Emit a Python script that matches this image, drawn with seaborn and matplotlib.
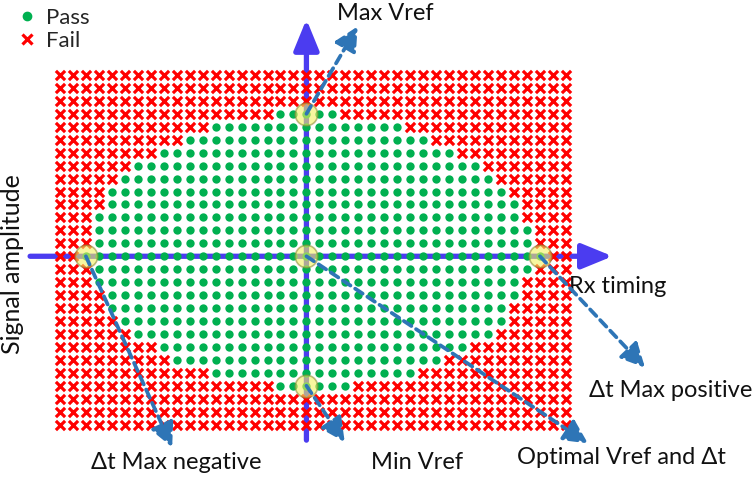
import numpy as np
import pandas as pd
import matplotlib
matplotlib.use("Agg")
import matplotlib.pyplot as plt
import seaborn as sns

# ---- data (grid of pass/fail results) ----
timing_steps = list(range(-19, 21))          # Rx timing offset (columns)
amplitude_steps = list(range(14, -14, -1))   # Vref / signal amplitude (rows, top to bottom)
# first and last passing timing step for each amplitude row (None = whole row fails)
pass_first = [None, None, None, -2, -7, -9, -11, -13, -14, -15, -15, -16, -16, -16,
              -17, -16, -16, -15, -15, -14, -13, -11, -10, -7, -2, None, None, None]
pass_last = [None, None, None, 2, 7, 9, 11, 13, 14, 15, 16, 16, 17, 17,
             18, 17, 16, 16, 15, 15, 14, 12, 10, 8, 3, None, None, None]

key_labels = ["Max Vref", "Δt Max negative", "Min Vref", "Optimal Vref and Δt", "Δt Max positive"]
key_timing = [0, -17, 0, 0, 18]
key_amplitude = [11, 0, -10, 0, 0]

# ---- build table ----
rows = []
for amp, a, b in zip(amplitude_steps, pass_first, pass_last):
    for t in timing_steps:
        ok = a is not None and a <= t <= b
        rows.append({"timing": t, "amplitude": amp, "status": "Pass" if ok else "Fail"})
df = pd.DataFrame(rows)

sns.set_theme(style="white")
plt.rcParams["font.family"] = ["Lato", "DejaVu Sans"]

GREEN = "#00B050"
RED = "#FF0000"
AXBLUE = "#4B3CF0"
DASHBLUE = "#2E75B6"

fig = plt.figure(figsize=(7.54, 5.01), dpi=100)
ax = fig.add_axes([0, 0, 1, 1])
ax.set_xlim(-23.62, 34.5)
ax.set_ylim(-18.9, 19.79)
ax.set_axis_off()

# main axes arrows (under the dots)
ax.annotate("", xy=(23.6, 0), xytext=(-21.3, 0),
            arrowprops=dict(arrowstyle="-|>,head_length=1.1,head_width=0.45", color=AXBLUE,
                            lw=3.8, mutation_scale=17, shrinkA=0, shrinkB=0), zorder=1)
ax.annotate("", xy=(0, 18.3), xytext=(0, -14.2),
            arrowprops=dict(arrowstyle="-|>,head_length=1.1,head_width=0.45", color=AXBLUE,
                            lw=3.8, mutation_scale=17, shrinkA=0, shrinkB=0), zorder=1)

sns.scatterplot(data=df[df.status == "Pass"], x="timing", y="amplitude", color=GREEN,
                marker="o", s=36, linewidth=0, ax=ax, zorder=3, legend=False)
sns.scatterplot(data=df[df.status == "Fail"], x="timing", y="amplitude", color=RED,
                marker="x", s=44, linewidth=2.3, ax=ax, zorder=3, legend=False)

# highlighted key points
sns.scatterplot(x=key_timing, y=key_amplitude, s=260, color="#F2F060", alpha=0.6,
                edgecolor="#8E8E3A", linewidth=1.2, ax=ax, zorder=4, legend=False)

# dashed callout arrows
tips = [(3.95, 17.75), (-10.35, -14.75), (2.95, -14.35), (21.7, -14.45), (26.1, -8.6)]
for (tx, ty), kx, ky in zip(tips, key_timing, key_amplitude):
    ax.annotate("", xy=(tx, ty), xytext=(kx, ky),
                arrowprops=dict(arrowstyle="-|>,head_length=0.9,head_width=0.45", color=DASHBLUE,
                                lw=2.7, linestyle=(0, (2.4, 1.5)), mutation_scale=16,
                                shrinkA=0, shrinkB=0), zorder=5)

FS = 17
label_pos = [(6.05, 18.75), (-10.05, -15.9), (8.5, -15.9), (24.3, -15.55), (28.1, -10.35)]
for txt, (lx, ly) in zip(key_labels, label_pos):
    ax.text(lx, ly, txt, ha="center", va="center", fontsize=FS, color="#111111")
ax.text(24.0, -2.3, "Rx timing", ha="center", va="center", fontsize=FS, color="#111111")
ax.text(-22.62, -0.6, "Signal amplitude", ha="center", va="center", rotation=90,
        fontsize=18, color="#111111")

# legend
handles = [plt.Line2D([], [], marker="o", color=GREEN, linestyle="", markersize=6),
           plt.Line2D([], [], marker="x", color=RED, linestyle="", markersize=6.5, markeredgewidth=2.3)]
ax.legend(handles, ["Pass", "Fail"], loc="upper left", bbox_to_anchor=(0.0, 1.015),
          frameon=False, fontsize=16, handletextpad=0.35, labelspacing=0.12,
          borderpad=0.2, handlelength=1.0)

fig.savefig("out.png", dpi=100)
